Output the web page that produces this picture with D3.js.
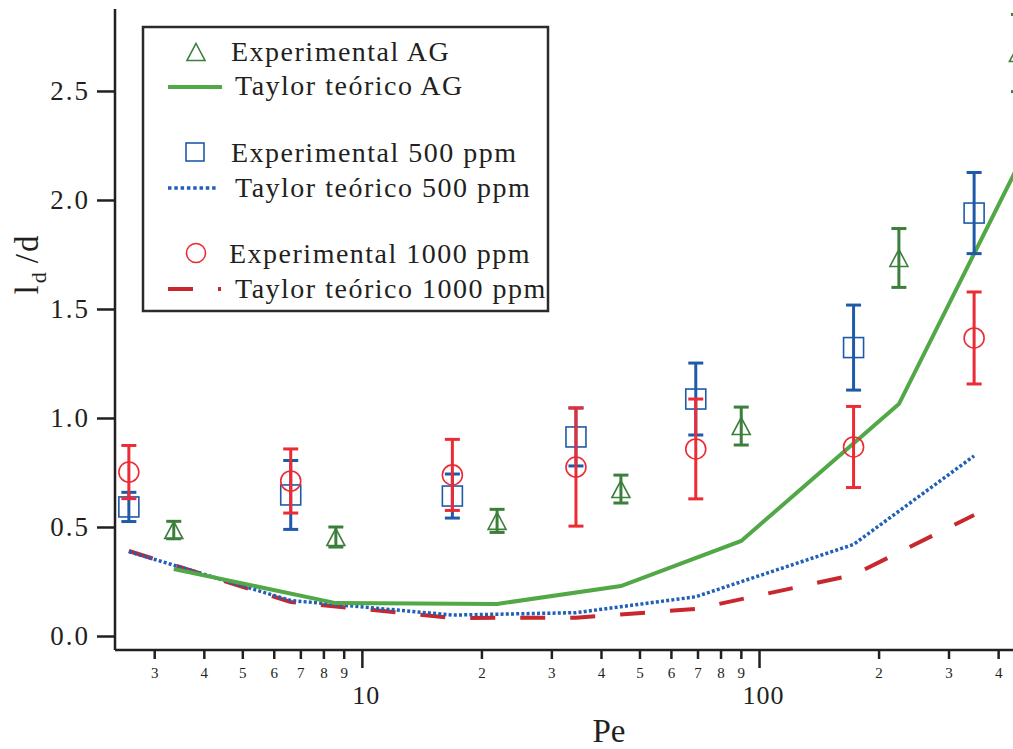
<!DOCTYPE html>
<html>
<head>
<meta charset="utf-8">
<script src="https://cdn.jsdelivr.net/npm/d3@7"></script>
<style>
  html, body { margin: 0; padding: 0; background: #fff; }
  svg { display: block; }
  text { font-family: "Liberation Serif", "Times New Roman", serif; fill: #231f20; }
</style>
</head>
<body>
<svg id="chart" width="1013" height="749"></svg>
<script>
// ---------- DATA ----------
const peAG      = [3.36, 8.6, 21.9, 44.9, 90.2, 225, 450];
const expAG     = [0.486, 0.454, 0.528, 0.674, 0.963, 1.734, 2.674];
const errAG     = [0.040, 0.046, 0.053, 0.064, 0.087, 0.135, 0.177];
const theoAG    = [0.307, 0.151, 0.147, 0.229, 0.436, 1.064, 2.16];

const pePPM     = [2.59, 6.62, 16.9, 34.6, 69.3, 173, 348];
const exp500    = [0.592, 0.647, 0.642, 0.913, 1.087, 1.323, 1.94];
const err500    = [0.067, 0.158, 0.101, 0.133, 0.165, 0.195, 0.186];
const theo500   = [0.387, 0.163, 0.096, 0.107, 0.180, 0.420, 0.826];

const exp1000   = [0.752, 0.711, 0.739, 0.775, 0.858, 0.867, 1.367];
const err1000   = [0.122, 0.147, 0.163, 0.271, 0.229, 0.186, 0.211];
const theo1000  = [0.390, 0.156, 0.083, 0.084, 0.124, 0.280, 0.555];

const yTicks      = [0, 0.5, 1.0, 1.5, 2.0, 2.5];
const xMinorTicks = [3,4,5,6,7,8,9, 20,30,40,50,60,70,80,90, 200,300,400];
const xMajorTicks = [10, 100];

const legendLabels = [
  "Experimental AG", "Taylor teórico AG",
  "Experimental 500 ppm", "Taylor teórico 500 ppm",
  "Experimental 1000 ppm", "Taylor teórico 1000 ppm"
];

// ---------- STYLE ----------
const C = {
  axis: "#231f20",
  greenMk: "#3b7f3b", greenLn: "#52a847",
  blueMk: "#1f5aa8", blueLn: "#2060b8",
  redMk: "#ec2b34", redLn: "#c8282d"
};

const svg = d3.select("#chart");

const x = d3.scaleLog().domain([2.39, 436]).range([115, 1013]);
const y = d3.scaleLinear().domain([-0.0642, 2.876]).range([650, 9]);

// ---------- AXES ----------
const yAxis = d3.axisLeft(y).tickValues(yTicks).tickSize(18).tickPadding(7)
  .tickFormat(d3.format(".1f"));
const gy = svg.append("g").attr("transform", "translate(115,0)").call(yAxis);
gy.select(".domain").attr("stroke", C.axis).attr("stroke-width", 2.5).attr("d", "M0,9V650");
gy.selectAll(".tick line").attr("stroke", C.axis).attr("stroke-width", 2.5);
gy.selectAll(".tick text").attr("font-size", 27).attr("letter-spacing", 2)
  .style("font-family", '"Liberation Serif", serif').attr("fill", C.axis);

const xMinor = d3.axisBottom(x).tickValues(xMinorTicks).tickSize(9)
  .tickFormat(d => String(d).charAt(0));
const gxm = svg.append("g").attr("transform", "translate(0,650)").call(xMinor);
gxm.select(".domain").attr("stroke", C.axis).attr("stroke-width", 2.5).attr("d", "M115,0H1013");
gxm.selectAll(".tick line").attr("stroke", C.axis).attr("stroke-width", 2.5);
gxm.selectAll(".tick text").attr("font-size", 15).attr("y", 28).attr("dy", 0)
  .style("font-family", '"Liberation Serif", serif').attr("fill", C.axis);

const xMajor = d3.axisBottom(x).tickValues(xMajorTicks).tickSize(18)
  .tickFormat(d3.format("d"));
const gxM = svg.append("g").attr("transform", "translate(0,650)").call(xMajor);
gxM.select(".domain").remove();
gxM.selectAll(".tick line").attr("stroke", C.axis).attr("stroke-width", 2.5);
gxM.selectAll(".tick text").attr("font-size", 26).attr("letter-spacing", 1)
  .attr("y", 54).attr("dy", 0).attr("dx", 4)
  .style("font-family", '"Liberation Serif", serif').attr("fill", C.axis);

// axis titles
svg.append("text").attr("x", 609).attr("y", 742).attr("text-anchor", "middle")
  .attr("font-size", 33).text("Pe");

const yl = svg.append("text").attr("transform", "translate(38,264) rotate(-90)")
  .attr("text-anchor", "middle").attr("font-size", 33).attr("letter-spacing", 2);
yl.append("tspan").text("l");
yl.append("tspan").attr("font-size", 22).attr("dy", 8).text("d");
yl.append("tspan").attr("dy", -8).attr("dx", 7).text("/d");

// ---------- PLOT ----------
const plot = svg.append("g");

const line = d3.line().x(d => x(d[0])).y(d => y(d[1]));

plot.append("path").datum(d3.zip(pePPM, theo1000)).attr("d", line)
  .attr("fill", "none").attr("stroke", C.redLn).attr("stroke-width", 4)
  .attr("stroke-dasharray", "25,25");
plot.append("path").datum(d3.zip(pePPM, theo500)).attr("d", line)
  .attr("fill", "none").attr("stroke", C.blueLn).attr("stroke-width", 3.5)
  .attr("stroke-dasharray", "3,2.2");
plot.append("path").datum(d3.zip(peAG, theoAG)).attr("d", line)
  .attr("fill", "none").attr("stroke", C.greenLn).attr("stroke-width", 4);

function errorBars(xs, ys, es, color) {
  const g = plot.append("g").attr("stroke", color).attr("stroke-width", 3).attr("fill", "none");
  const data = d3.zip(xs, ys, es);
  g.selectAll(".v").data(data).join("line")
    .attr("x1", d => x(d[0])).attr("x2", d => x(d[0]))
    .attr("y1", d => y(d[1] - d[2])).attr("y2", d => y(d[1] + d[2]));
  g.selectAll(".t").data(data).join("line")
    .attr("x1", d => x(d[0]) - 7.5).attr("x2", d => x(d[0]) + 7.5)
    .attr("y1", d => y(d[1] + d[2])).attr("y2", d => y(d[1] + d[2]));
  g.selectAll(".b").data(data).join("line")
    .attr("x1", d => x(d[0]) - 7.5).attr("x2", d => x(d[0]) + 7.5)
    .attr("y1", d => y(d[1] - d[2])).attr("y2", d => y(d[1] - d[2]));
}

const triPath = "M0,-8.5L9,8.5L-9,8.5Z";

errorBars(peAG, expAG, errAG, C.greenMk);
plot.append("g").selectAll("path").data(d3.zip(peAG, expAG)).join("path")
  .attr("transform", d => `translate(${x(d[0])},${y(d[1])})`)
  .attr("d", triPath).attr("fill", "none").attr("stroke", C.greenMk).attr("stroke-width", 1.6);

errorBars(pePPM, exp500, err500, C.blueMk);
plot.append("g").selectAll("rect").data(d3.zip(pePPM, exp500)).join("rect")
  .attr("x", d => x(d[0]) - 10).attr("y", d => y(d[1]) - 10)
  .attr("width", 20).attr("height", 20)
  .attr("fill", "none").attr("stroke", C.blueMk).attr("stroke-width", 1.6);

errorBars(pePPM, exp1000, err1000, C.redMk);
plot.append("g").selectAll("circle").data(d3.zip(pePPM, exp1000)).join("circle")
  .attr("cx", d => x(d[0])).attr("cy", d => y(d[1])).attr("r", 10)
  .attr("fill", "none").attr("stroke", C.redMk).attr("stroke-width", 1.6);

// ---------- LEGEND ----------
const lg = svg.append("g");
lg.append("rect").attr("x", 143).attr("y", 27).attr("width", 405).attr("height", 284)
  .attr("fill", "#fff").attr("stroke", "#2b2b2b").attr("stroke-width", 2.5);

const legRows = [
  {label: legendLabels[0], tx: 231, ty: 61,  kind: "tri",  cy: 52},
  {label: legendLabels[1], tx: 235, ty: 95,  kind: "solid", cy: 87},
  {label: legendLabels[2], tx: 231, ty: 162, kind: "sq",   cy: 152},
  {label: legendLabels[3], tx: 235, ty: 197, kind: "dot",  cy: 188},
  {label: legendLabels[4], tx: 229, ty: 263, kind: "circ", cy: 253},
  {label: legendLabels[5], tx: 235, ty: 298, kind: "dash", cy: 289}
];
legRows.forEach(r => {
  lg.append("text").attr("x", r.tx).attr("y", r.ty).attr("font-size", 28)
    .attr("letter-spacing", 1.5).text(r.label);
  if (r.kind === "tri") {
    lg.append("path").attr("transform", `translate(196,${r.cy})`).attr("d", triPath)
      .attr("fill", "none").attr("stroke", C.greenMk).attr("stroke-width", 1.6);
  } else if (r.kind === "sq") {
    lg.append("rect").attr("x", 186).attr("y", r.cy - 9).attr("width", 18).attr("height", 18)
      .attr("fill", "none").attr("stroke", C.blueMk).attr("stroke-width", 1.6);
  } else if (r.kind === "circ") {
    lg.append("circle").attr("cx", 196).attr("cy", r.cy).attr("r", 9.5)
      .attr("fill", "none").attr("stroke", C.redMk).attr("stroke-width", 1.6);
  } else if (r.kind === "solid") {
    lg.append("line").attr("x1", 168).attr("x2", 222).attr("y1", r.cy).attr("y2", r.cy)
      .attr("stroke", C.greenLn).attr("stroke-width", 4);
  } else if (r.kind === "dot") {
    lg.append("line").attr("x1", 168).attr("x2", 218).attr("y1", r.cy).attr("y2", r.cy)
      .attr("stroke", C.blueLn).attr("stroke-width", 3.5).attr("stroke-dasharray", "3.5,2.8");
  } else if (r.kind === "dash") {
    lg.append("line").attr("x1", 168).attr("x2", 221).attr("y1", r.cy).attr("y2", r.cy)
      .attr("stroke", C.redLn).attr("stroke-width", 4).attr("stroke-dasharray", "25,25");
  }
});
</script>
</body>
</html>
